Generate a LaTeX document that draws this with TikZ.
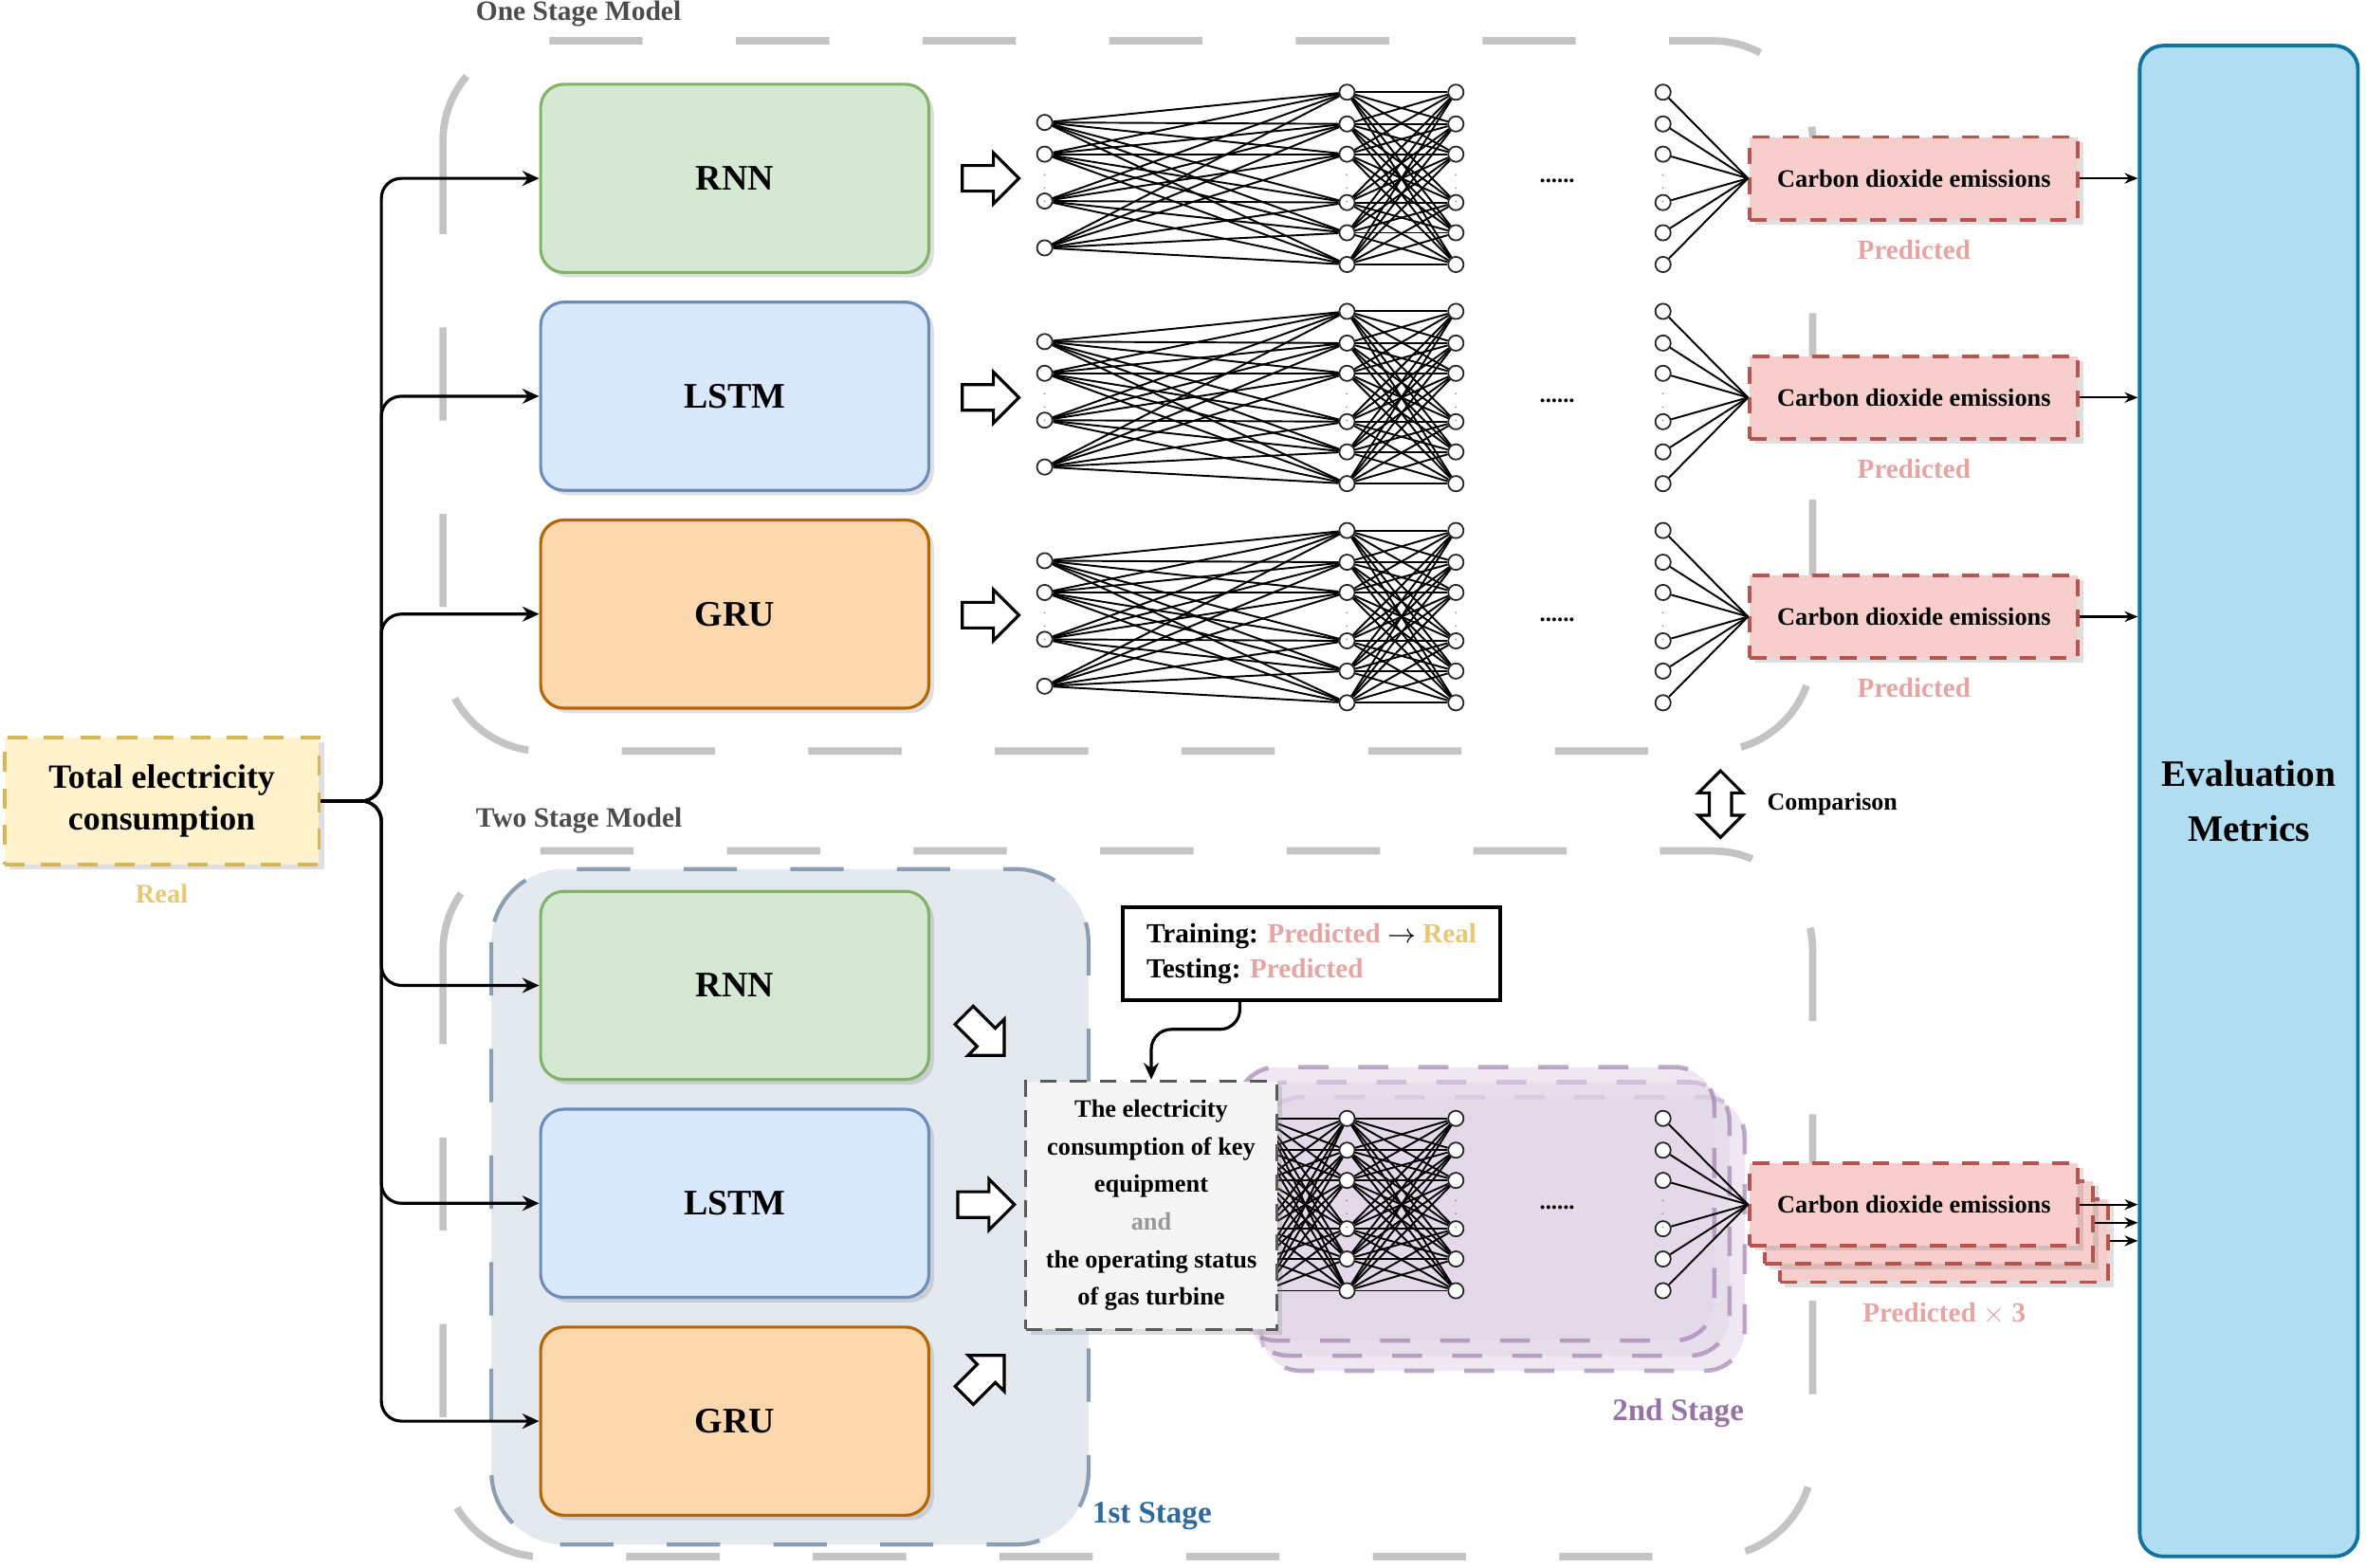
\documentclass[tikz,border=0pt]{standalone}
\usepackage{fontspec}
\setmainfont{Liberation Serif}
\usetikzlibrary{shapes.arrows, arrows.meta, positioning, calc, shadows}
\definecolor{rnngreen}{HTML}{D5E8D4}
\definecolor{rnnedge}{HTML}{82B366}
\definecolor{lstmblue}{HTML}{DAE8FC}
\definecolor{lstmedge}{HTML}{6C8EBF}
\definecolor{gruorange}{HTML}{FAD7AC}
\definecolor{gruedge}{HTML}{B46504}
\definecolor{co2red}{HTML}{F8CECC}
\definecolor{co2edge}{HTML}{B85450}
\definecolor{realyellow}{HTML}{FFF2CC}
\definecolor{realedge}{HTML}{D6B656}
\definecolor{realtext}{HTML}{E8C874}
\definecolor{predtext}{HTML}{E8A3A3}
\definecolor{evalblue}{HTML}{B1DDF0}
\definecolor{evaledge}{HTML}{10739E}
\definecolor{stagegray}{HTML}{C4C4C4}
\definecolor{firstfill}{HTML}{E4E9EF}
\definecolor{firstedge}{HTML}{8A9FB3}
\definecolor{firsttext}{HTML}{2E6A9E}
\definecolor{secondfill}{HTML}{E1D5E7}
\definecolor{secondedge}{HTML}{9673A6}
\definecolor{keyfill}{HTML}{F5F5F5}

\begin{document}
\begin{tikzpicture}[
        x=0.01594cm, y=-0.01594cm,
        node distance=8pt,
        shade/.style={drop shadow={opacity=0.25, shadow xshift=1.5pt, shadow yshift=-1.5pt}},
        model/.style={rectangle, rounded corners=7pt, minimum width=116.5pt, minimum height=56.5pt, line width=0.9pt, font=\bfseries\fontsize{10.8}{13}\selectfont, shade},
        co2/.style={rectangle, draw=co2edge, fill=co2red, dash pattern=on 5pt off 4pt, line width=1.1pt, minimum width=98.5pt, minimum height=24.8pt, font=\bfseries\fontsize{7.5}{9}\selectfont, shade},
        pred/.style={text=predtext, font=\bfseries\fontsize{8.3}{10}\selectfont},
        stage/.style={draw=stagegray, line width=2.2pt, dash pattern=on 28pt off 28pt, rounded corners=30pt},
        stagelabel/.style={anchor=west, text=black!70, font=\bfseries\fontsize{8.4}{10}\selectfont},
        second/.style={draw=secondedge, draw opacity=0.6, fill=secondfill, fill opacity=0.55, line width=1.3pt, dash pattern=on 9pt off 9pt, rounded corners=12pt},
        neuron/.style={circle, draw=black!85, fill=white, line width=0.5pt, inner sep=0pt, minimum size=4.6pt},
        link/.style={line width=0.55pt, black},
        vdots/.style={inner sep=0pt, text=black!50, font=\fontsize{4}{4}\selectfont},
        bigarrow/.style={single arrow, draw=black, fill=white, line width=0.9pt, minimum height=17pt, minimum width=14.5pt, single arrow head extend=3.8pt, single arrow head indent=0pt, inner sep=3.4pt},
        branch/.style={-{Stealth[length=5pt, width=4.5pt]}, line width=0.9pt, rounded corners=6pt},
        tip/.style={-{Stealth[length=4pt, width=3.2pt]}, line width=0.6pt}
    ]
    \useasboundingbox (0,0) rectangle (1565,1037);

    % outer containers
    \draw[stage] (293,27) rectangle (1199,497);
    \draw[stage] (293,563) rectangle (1199,1030);
    \node[stagelabel] (onelabel) at (307,9) {One Stage Model};
    \node[stagelabel] (twolabel) at (307,543) {Two Stage Model};

    % stage boxes of the two stage model
    \draw[fill=firstfill, draw=firstedge, line width=1.2pt, dash pattern=on 16pt off 16pt, rounded corners=22pt] (325,575) rectangle (720,1022);
    \node[text=firsttext, font=\bfseries\fontsize{9.4}{11}\selectfont] (firstlabel) at (762,1003) {1st Stage};
    \draw[second] (834,726) rectangle (1154,907);
    \draw[second] (826,716) rectangle (1144,897);
    \draw[second] (818,706) rectangle (1134,887);
    \node[text=secondedge, font=\bfseries\fontsize{9.4}{11}\selectfont] (secondlabel) at (1110,935) {2nd Stage};

    % input and evaluation
    \node[rectangle, draw=realedge, fill=realyellow, dash pattern=on 6pt off 5pt, line width=1.1pt, minimum width=94.4pt, minimum height=38pt, align=center, font=\bfseries\fontsize{10.2}{12.6}\selectfont, shade] (total) at (107,530) {Total electricity\\consumption};
    \node[below=2pt of total, text=realtext, font=\bfseries\fontsize{8.1}{10}\selectfont] (reallabel) {Real};
    \node[rectangle, rounded corners=7pt, draw=evaledge, fill=evalblue, line width=1.1pt, minimum width=65.5pt, minimum height=453.5pt, align=center, font=\bfseries\fontsize{11.2}{16.5}\selectfont] (eval) at (1487.5,530) {Evaluation\\Metrics};

    % models
    \node[model, draw=rnnedge, fill=rnngreen] (rnn1) at (486,118) {RNN};
    \node[model, draw=lstmedge, fill=lstmblue, below=of rnn1] (lstm1) {LSTM};
    \node[model, draw=gruedge, fill=gruorange, below=of lstm1] (gru1) {GRU};
    \node[model, draw=rnnedge, fill=rnngreen] (rnn2) at (486,652) {RNN};
    \node[model, draw=lstmedge, fill=lstmblue, below=of rnn2] (lstm2) {LSTM};
    \node[model, draw=gruedge, fill=gruorange, below=of lstm2] (gru2) {GRU};

    % outputs
    \node[co2] (cd1) at (1266,118) {Carbon dioxide emissions};
    \node[co2] (cd2) at (1266,263) {Carbon dioxide emissions};
    \node[co2] (cd3) at (1266,408) {Carbon dioxide emissions};
    \node[co2] (cd4c) at (1286,821) {};
    \node[co2] (cd4b) at (1276,809) {};
    \node[co2] (cd4) at (1266,797) {Carbon dioxide emissions};
    \node[pred, below=2pt of cd1] (pred1) {Predicted};
    \node[pred, below=2pt of cd2] (pred2) {Predicted};
    \node[pred, below=2pt of cd3] (pred3) {Predicted};
    \node[pred, below=2pt of cd4c] (pred4) {Predicted $\times$ 3};

    % networks
    \foreach \r/\cy in {1/118,2/263,3/408,4/797} {
        \ifnum\r<4
            \foreach \i/\dy in {1/-37,2/-16,3/15,4/46}
                \node[neuron] (in\r\i) at (691,{\cy+\dy}) {};
            \node[vdots] (dotsin\r) at (691,\cy) {$\vdots$};
        \fi
        \foreach \i/\dy in {1/-57,2/-36,3/-16,4/16,5/36,6/57} {
            \node[neuron] (ha\r\i) at (891,{\cy+\dy}) {};
            \node[neuron] (hb\r\i) at (963,{\cy+\dy}) {};
            \node[neuron] (out\r\i) at (1100,{\cy+\dy}) {};
        }
        \foreach \x/\n in {891/ha,963/hb,1100/out}
            \node[vdots] (dots\n\r) at (\x,\cy) {$\vdots$};
        \node[font=\bfseries\fontsize{7}{8}\selectfont] (gap\r) at (1030,{\cy+2}) {......};
        \foreach \i in {1,...,6} {
            \foreach \j in {1,...,6}
                \draw[link] (ha\r\i) -- (hb\r\j);
            \draw[link] (out\r\i) -- (cd\r.west);
        }
    }
    \foreach \r in {1,2,3}
        \foreach \i in {1,...,4}
            \foreach \j in {1,...,6}
                \draw[link] (in\r\i) -- (ha\r\j);
    % inputs of the second stage, hidden behind the key box
    \foreach \i/\dy in {1/-57,2/-36,3/-16,4/16,5/36,6/57}
        \node[neuron] (in4\i) at (836,{797+\dy}) {};
    \foreach \i in {1,...,6}
        \foreach \j in {1,...,6}
            \draw[link] (in4\i) -- (ha4\j);

    % key variables and teacher forcing note
    \node[rectangle, draw=black!65, fill=keyfill, dash pattern=on 5pt off 4pt, line width=1pt, minimum width=75.4pt, minimum height=74.5pt, align=center, font=\bfseries\fontsize{7.5}{11.3}\selectfont, shade] (key) at (761.5,797.5) {The electricity\\consumption of key\\equipment\\{\color{black!40}and}\\the operating status\\of gas turbine};
    \node[rectangle, draw=black, fill=white, line width=1.1pt, minimum width=113.4pt, minimum height=28pt, align=left, font=\bfseries\fontsize{8.3}{10.4}\selectfont] (train) at (867.5,631) {Training: {\color{predtext}Predicted} $\rightarrow$ {\color{realtext}Real}\\Testing: {\color{predtext}Predicted}};
    \draw[branch] ([xshift=-21.5pt]train.south) -- ++(0,18) -| (key.north);

    % connectors
    \foreach \t in {rnn1,lstm1,gru1,rnn2,lstm2,gru2}
        \draw[branch] (total.east) -- ++(40,0) |- (\t.west);
    \foreach \c in {cd1,cd2,cd3,cd4,cd4b,cd4c}
        \draw[tip] (\c.east) -- (\c.east -| eval.west);

    % block arrows
    \node[bigarrow] (ar1) at (651,118) {};
    \node[bigarrow] (ar2) at (651,263) {};
    \node[bigarrow] (ar3) at (651,407) {};
    \node[bigarrow, rotate=-45] (ar4) at (648,682) {};
    \node[bigarrow] (ar5) at (648,797) {};
    \node[bigarrow, rotate=45] (ar6) at (648,913) {};
    \node[double arrow, draw=black, fill=white, line width=0.9pt, rotate=90, minimum height=20pt, minimum width=12.5pt, double arrow head extend=3.3pt, inner sep=2.9pt] (cmp) at (1138,532) {};
    \node[anchor=west, font=\bfseries\fontsize{7.4}{9}\selectfont] (cmptext) at ([xshift=10.5pt]cmp.center) {Comparison};
\end{tikzpicture}
\end{document}
